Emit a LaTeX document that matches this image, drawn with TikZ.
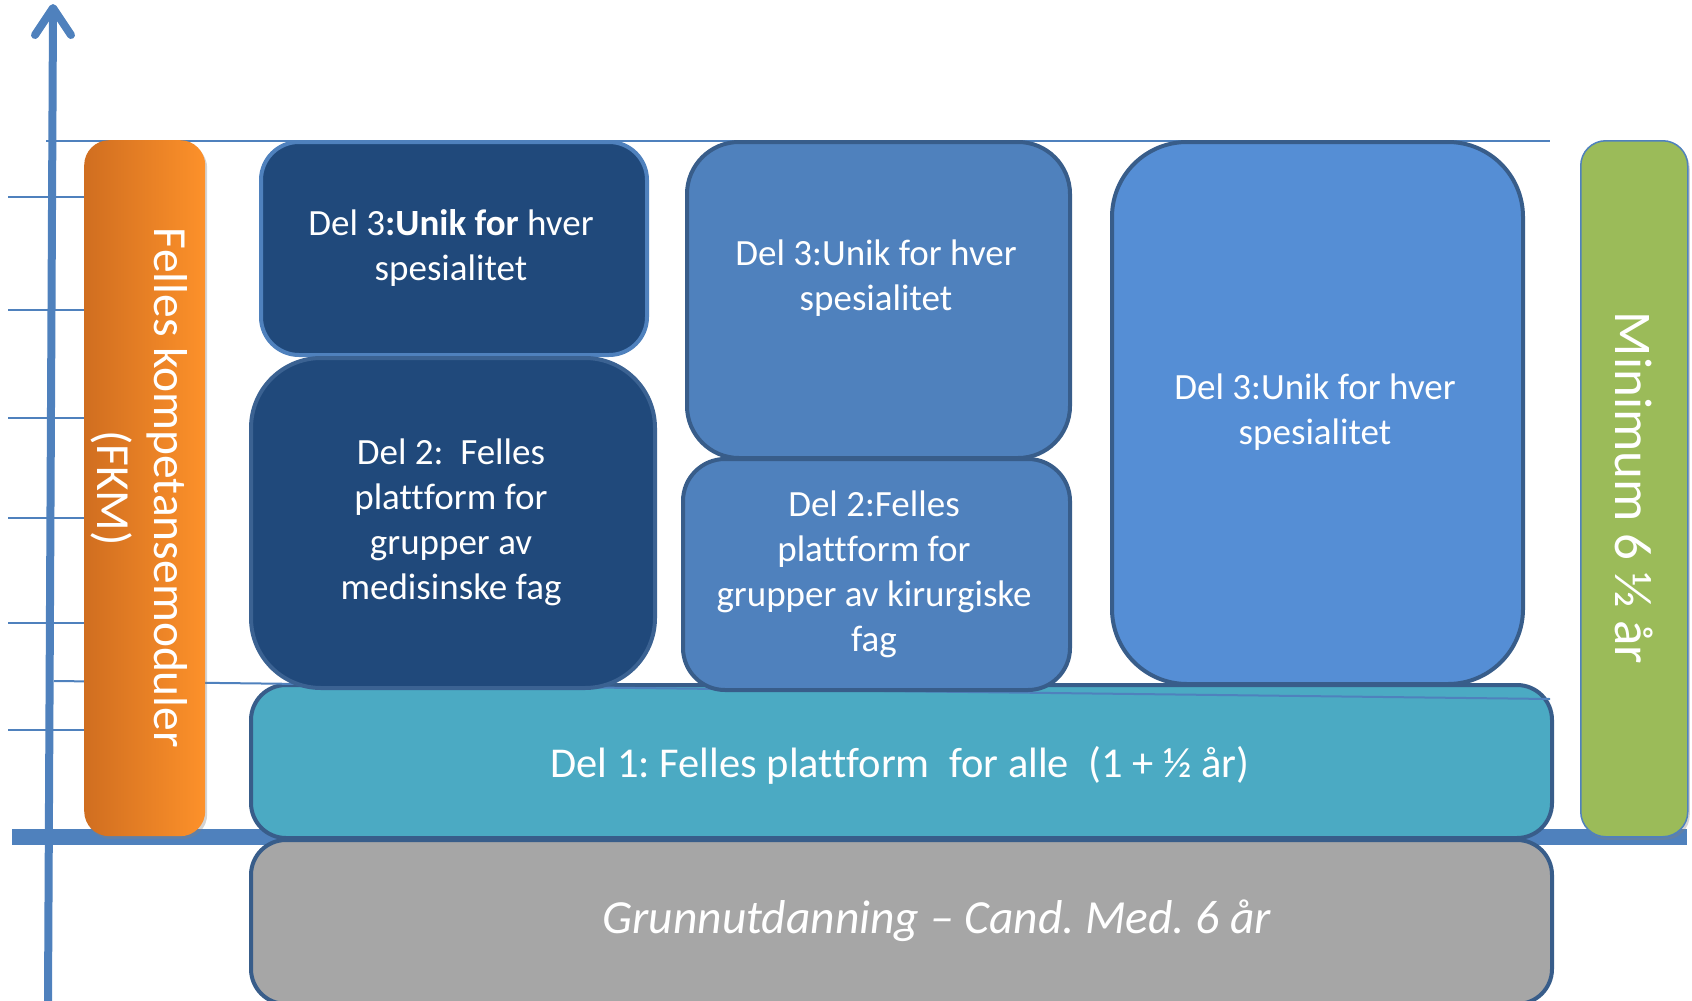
\documentclass[tikz,border=0pt]{standalone}
\usepackage{fontspec}
\setmainfont[Ligatures=NoCommon]{Carlito}
\usetikzlibrary{shadows}
\frenchspacing
\definecolor{axisblue}{RGB}{79,129,189}
\definecolor{darkfill}{RGB}{32,73,123}
\definecolor{borderdark}{RGB}{56,93,138}
\definecolor{midfill}{RGB}{79,129,189}
\definecolor{rightfill}{RGB}{85,142,213}
\definecolor{tealfill}{RGB}{75,170,195}
\definecolor{greyfill}{RGB}{166,166,166}
\definecolor{greenfill}{RGB}{155,187,89}
\definecolor{orangeL}{RGB}{208,110,32}
\definecolor{orangeR}{RGB}{253,145,42}
\tikzset{
  thinline/.style={draw=axisblue, line width=2},
  box/.style={draw=borderdark, line width=4, inner sep=0, anchor=north west},
  lbl/.style={text=white, align=center, inner sep=0},
  sidebox/.style={inner sep=0, anchor=north west, drop shadow={opacity=0.35, shadow xshift=2pt, shadow yshift=-3pt}},
}
\begin{document}
\begin{tikzpicture}[x=1pt,y=-1pt]
\useasboundingbox (0,0) rectangle (1692,1001);
% thin guide lines
\draw[thinline] (46,141) -- (1550,141);
\foreach \yy in {197,310,418,518,623,730} {\draw[thinline] (8,\yy) -- (84,\yy);}
% axes
\draw[draw=axisblue, line width=16] (12,837) -- (1687,837);
\draw[draw=axisblue, line width=8] (48,1001) -- (53,12);
\draw[draw=axisblue, line width=8, line cap=round, line join=round] (35,35) -- (53,8) -- (71,35);
% bottom boxes
\node[box, fill=tealfill, rounded corners=35, minimum width=1301, minimum height=153] (del1) at (249,683) {};
\node[box, fill=greyfill, rounded corners=35, minimum width=1301, minimum height=164] (grunn) at (249,838) {};
\draw[thinline] (54,681) -- (1550,699);
% column 1
\node[box, fill=darkfill, draw=axisblue, rounded corners=38, minimum width=386, minimum height=213] (d3a) at (259,140) {};
\node[box, fill=darkfill, draw=borderdark!85!axisblue, rounded corners=70, minimum width=404, minimum height=330] (d2a) at (249,356) {};
% column 2
\node[box, fill=midfill, rounded corners=52, minimum width=383, minimum height=316] (d3b) at (685,140) {};
\node[box, fill=midfill, rounded corners=42, minimum width=387, minimum height=231] (d2b) at (681,457) {};
% column 3
\node[box, fill=rightfill, rounded corners=75, minimum width=411, minimum height=542] (d3c) at (1110,140) {};
% side boxes
\node[sidebox, left color=orangeL, right color=orangeR, rounded corners=25, minimum width=121, minimum height=696] (fkm) at (84,140) {};
\node[sidebox, fill=greenfill, draw=axisblue, line width=1.5, rounded corners=25, minimum width=107, minimum height=696] (minbox) at (1580,140) {};
% labels
\node[lbl, font=\fontsize{37}{45}\selectfont] (t3a) at (451,248) {Del 3\textbf{:Unik for} hver\\spesialitet};
\node[lbl, font=\fontsize{37}{45}\selectfont] (t2a) at (451,522) {Del 2:\ \ Felles\\plattform for\\grupper av\\medisinske fag};
\node[lbl, font=\fontsize{37}{45}\selectfont] (t3b) at (876,278) {Del 3:Unik for hver\\spesialitet};
\node[lbl, font=\fontsize{37}{45}\selectfont] (t2b) at (874,574) {Del 2:Felles\\plattform for\\grupper av kirurgiske\\fag};
\node[lbl, font=\fontsize{37}{45}\selectfont] (t3c) at (1315,412) {Del 3:Unik for hver\\spesialitet};
\node[lbl, font=\fontsize{42.5}{50}\selectfont] (t1) at (900,765) {Del 1: Felles plattform\ \ for alle\ \ (1 + ½ år)};
\node[lbl, font=\fontsize{47.5}{56}\selectfont\itshape] (tg) at (937,921) {Grunnutdanning – Cand. Med. 6 år};
\node[lbl, rotate=-90, font=\fontsize{47.5}{57}\selectfont] (tfkm) at (139,488) {Felles kompetansemoduler\\(FKM)};
\node[lbl, rotate=-90, font=\fontsize{53}{60}\selectfont] (tmin) at (1634,488) {Minimum 6 ½ år};
\end{tikzpicture}
\end{document}
